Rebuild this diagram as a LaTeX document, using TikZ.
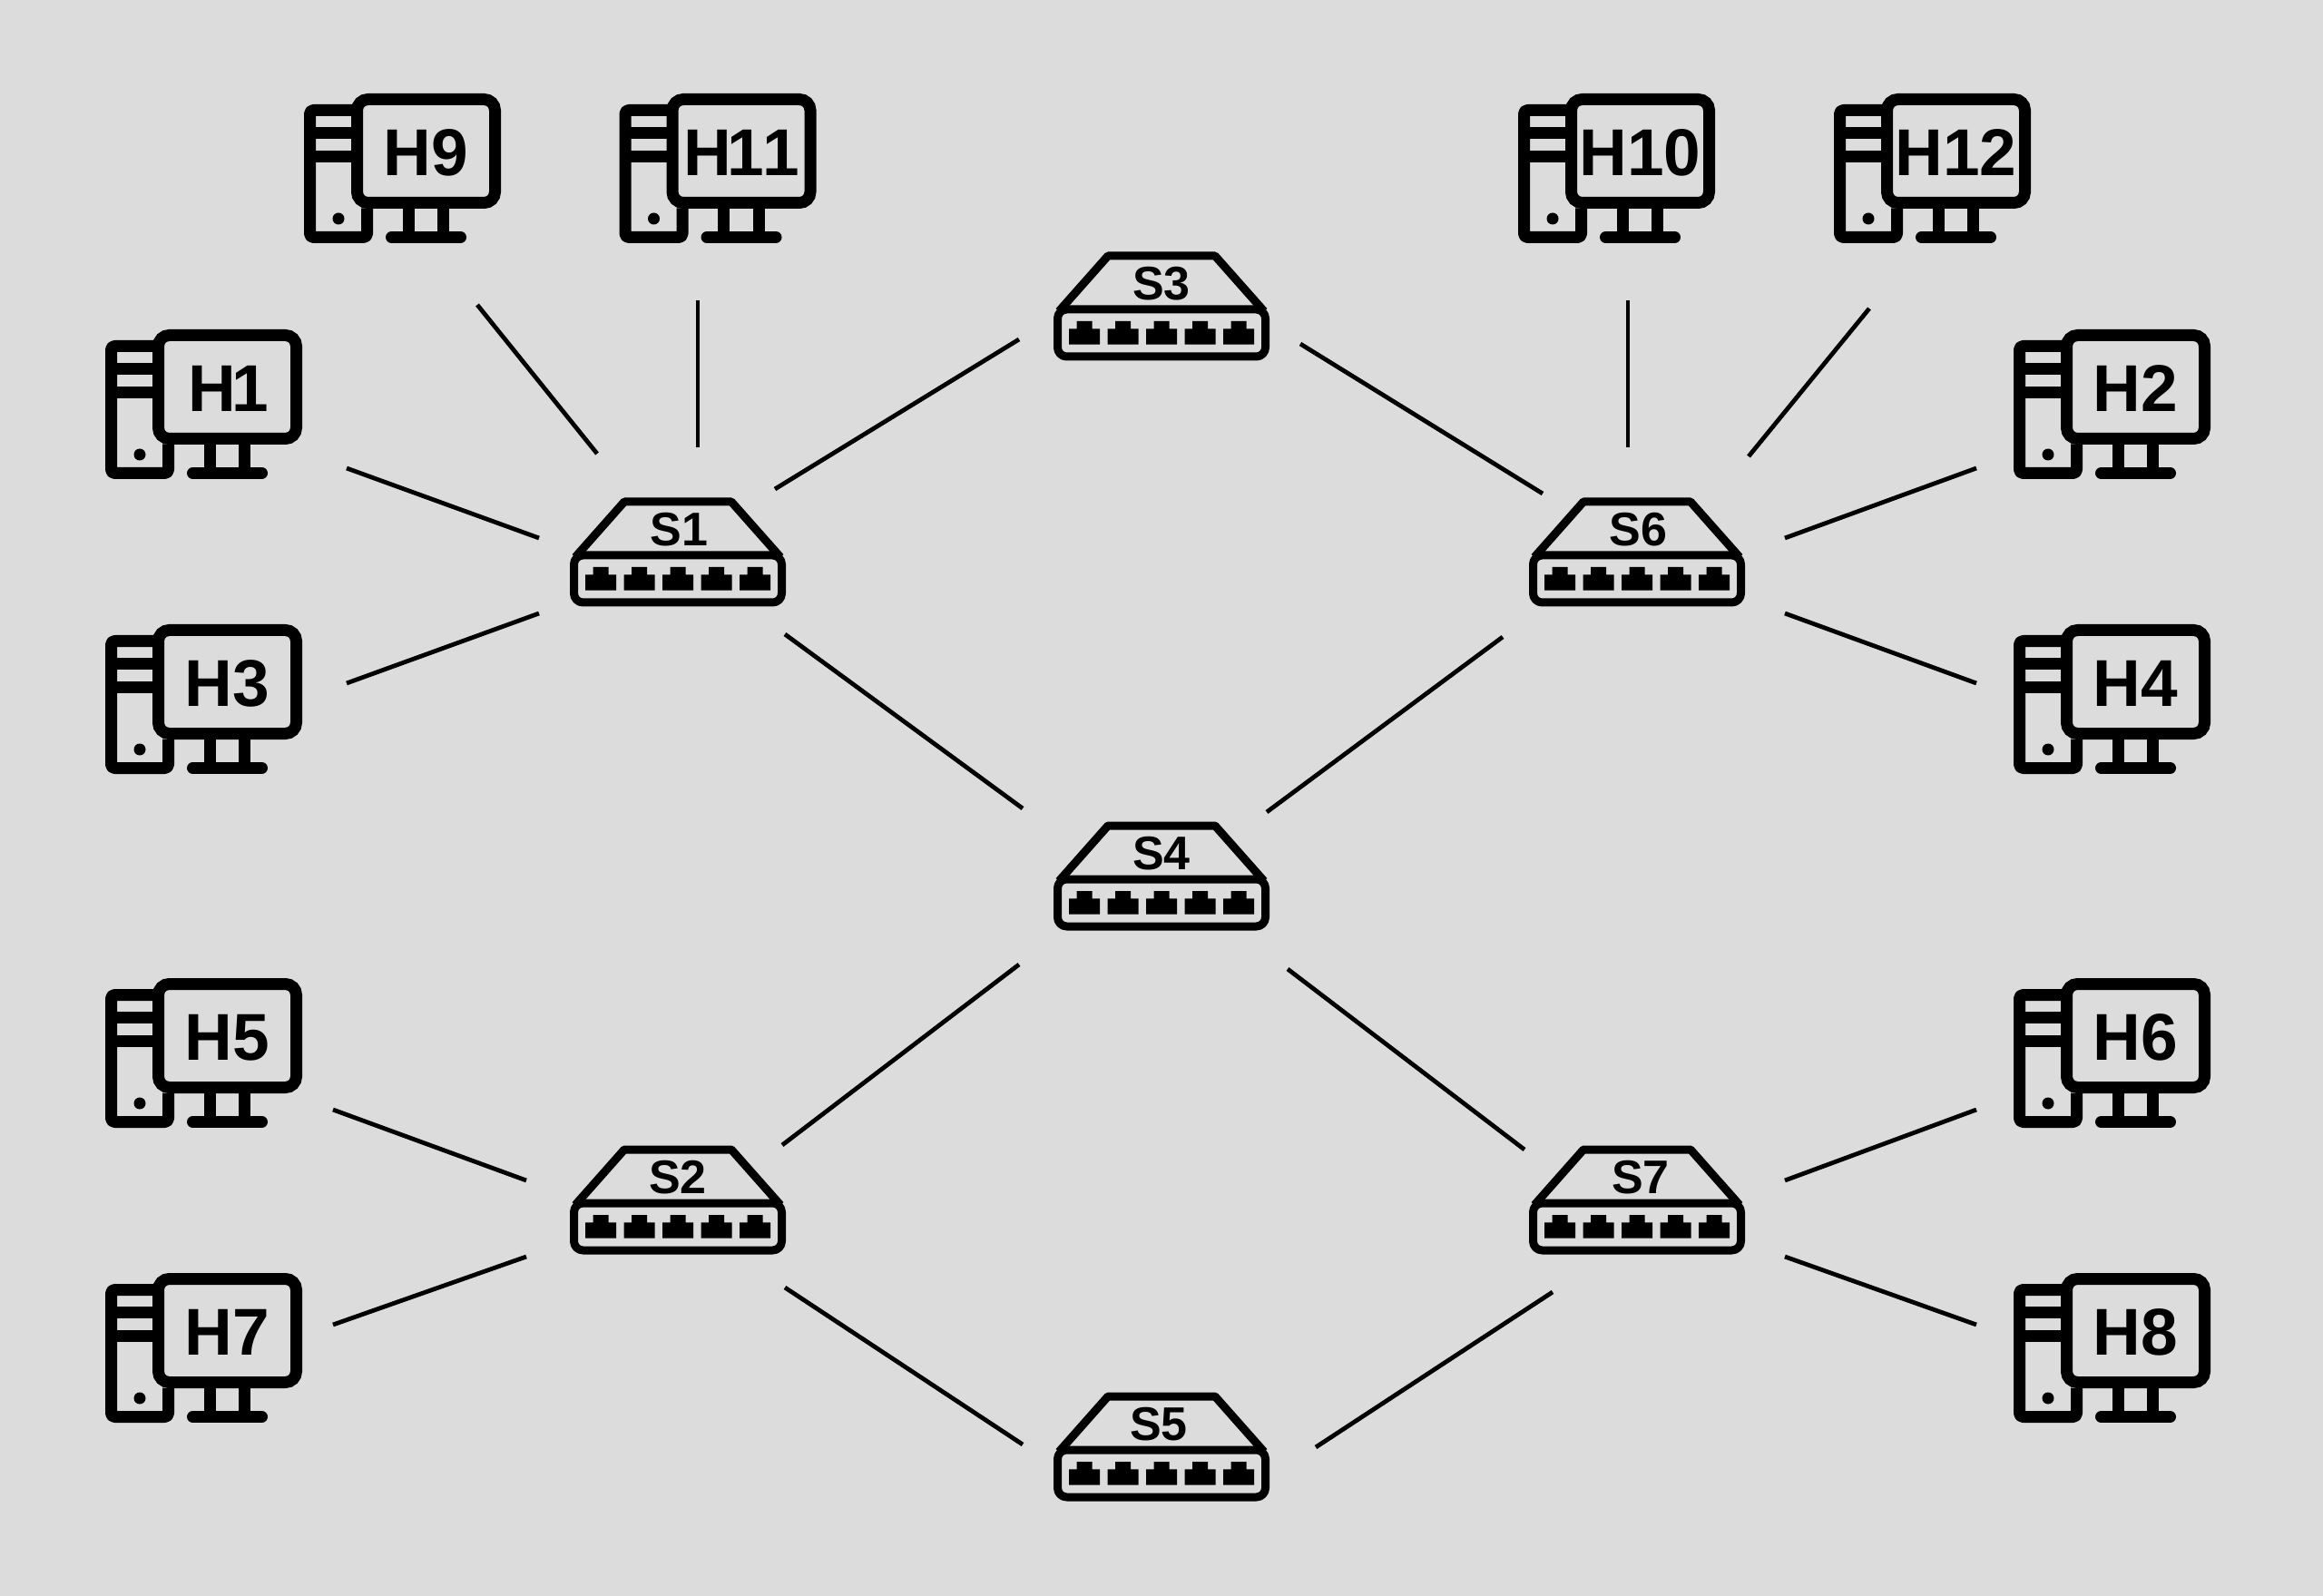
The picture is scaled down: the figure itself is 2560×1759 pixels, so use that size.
\documentclass[tikz,border=0pt]{standalone}
\usepackage{fontspec}
\setmainfont{Liberation Sans}
\usetikzlibrary{calc}
\definecolor{bgc}{HTML}{DCDCDC}
\tikzset{
  hostbox/.style={draw=black,line width=6.5pt,rounded corners=6pt,minimum width=76pt,minimum height=57pt,inner sep=0pt,text height=26.9pt,text depth=0pt,font=\fontsize{36.5}{36.5}\bfseries\selectfont,text=black},
  hostline/.style={draw=black,line width=6.5pt,line join=round,rounded corners=2pt},
  standbase/.style={draw=black,line width=6.5pt,line cap=round},
  switchlabel/.style={inner sep=0pt,text height=19.4pt,text depth=0pt,font=\fontsize{26}{26}\bfseries\selectfont,text=black},
  switchline/.style={draw=black,line width=4.5pt,line join=round},
  portshape/.style={fill=black},
  link/.style={draw=black,line width=2.4pt},
}
\newcommand{\hostitem}[4]{%
  \node[hostbox] (#1) at (#2,#3) {#4};
  \begin{scope}[shift={(#1.center)}]
    \draw[hostline] (-76,-45) -- (-128,-45) -- (-128,95) -- (-65,95) -- (-65,63);
    \draw[hostline] (-128,-20) -- (-76,-20);
    \draw[hostline] (-128,6) -- (-76,6);
    \fill (-96.5,74.5) circle[radius=6.5];
    \draw[hostline] (-19.5,60) -- (-19.5,95);
    \draw[hostline] (19,60) -- (19,95);
    \draw[standbase] (-38,95) -- (38,95);
  \end{scope}
}
\newcommand{\portitem}[1]{%
  \fill[portshape] (#1-17,51.3) -- (#1-8.5,51.3) -- (#1-8.5,43) -- (#1+8.5,43) -- (#1+8.5,51.3) -- (#1+17,51.3) -- (#1+17,68.7) -- (#1-17,68.7) -- cycle;
}
\newcommand{\switchitem}[4]{%
  \node[switchlabel] (#1) at (#2,#3) {#4};
  \begin{scope}[shift={(#1.center)}]
    \draw[switchline,rounded corners=5pt] (-114.5,30) rectangle (114.5,82);
    \draw[switchline] (-113,32) -- (-59,-29) -- (59,-29) -- (113,32);
    \portitem{-85}\portitem{-42.5}\portitem{0}\portitem{42.5}\portitem{85}
  \end{scope}
}
\newcommand{\linkitem}[6]{%
  \draw[link] ($(#1)+(#2,#3)$) -- ($(#4)+(#5,#6)$);
}
\begin{document}
\begin{tikzpicture}[x=0.5pt,y=-0.5pt]
\fill[bgc] (0,0) rectangle (2560,1759);
\useasboundingbox (0,0) rectangle (2560,1759);
\hostitem{h1}{250.5}{426.5}{\hspace*{1pt}H\kern-2.5pt 1}
\hostitem{h3}{250.5}{751.5}{H3}
\hostitem{h5}{250.5}{1141.5}{H5}
\hostitem{h7}{250.5}{1466.5}{H7}
\hostitem{h9}{469.5}{166.5}{H9}
\hostitem{h11}{817}{166.5}{H\kern-2.5pt 1\kern-0.8pt 1}
\hostitem{h10}{1807.5}{166.5}{H10}
\hostitem{h12}{2155.5}{166.5}{H12}
\hostitem{h2}{2353.5}{426.5}{H2}
\hostitem{h4}{2353.5}{751.5}{H4}
\hostitem{h6}{2353.5}{1141.5}{H6}
\hostitem{h8}{2353.5}{1466.5}{H8}
\switchitem{s1}{747}{582}{\hspace*{1.5pt}S1}
\switchitem{s2}{747}{1296}{S2}
\switchitem{s3}{1280}{311}{S3}
\switchitem{s4}{1280}{939}{S4}
\switchitem{s5}{1280}{1568}{\hspace*{-3pt}S5}
\switchitem{s6}{1804}{582}{\hspace*{1.5pt}S6}
\switchitem{s7}{1804}{1296}{\hspace*{4pt}S7}
\linkitem{h1}{131.5}{89.5}{s1}{-153}{11}
\linkitem{h3}{131.5}{1.5}{s1}{-153}{94}
\linkitem{h9}{56.5}{169.5}{s1}{-89}{-82}
\linkitem{h11}{-48}{164.5}{s1}{22}{-89}
\linkitem{s1}{107}{-43}{s3}{-157}{63}
\linkitem{s3}{153}{68}{s6}{-104}{-38}
\linkitem{h10}{-13.5}{164.5}{s6}{-10}{-89}
\linkitem{h12}{-95.5}{173.5}{s6}{123}{-79}
\linkitem{h2}{-175.5}{89.5}{s6}{163}{11}
\linkitem{h4}{-175.5}{1.5}{s6}{163}{94}
\linkitem{s1}{118}{117}{s4}{-153}{-48}
\linkitem{s6}{-148}{120}{s4}{116}{-44}
\linkitem{s4}{-157}{124}{s2}{115}{-34}
\linkitem{s4}{139}{129}{s7}{-124}{-29}
\linkitem{h5}{116.5}{81.5}{s2}{-167}{5}
\linkitem{h7}{116.5}{-6.5}{s2}{-167}{89}
\linkitem{s2}{118}{123}{s5}{-153}{24}
\linkitem{s7}{-93}{128}{s5}{170}{27}
\linkitem{h6}{-175.5}{81.5}{s7}{163}{5}
\linkitem{h8}{-175.5}{-6.5}{s7}{163}{89}
\end{tikzpicture}
\end{document}
